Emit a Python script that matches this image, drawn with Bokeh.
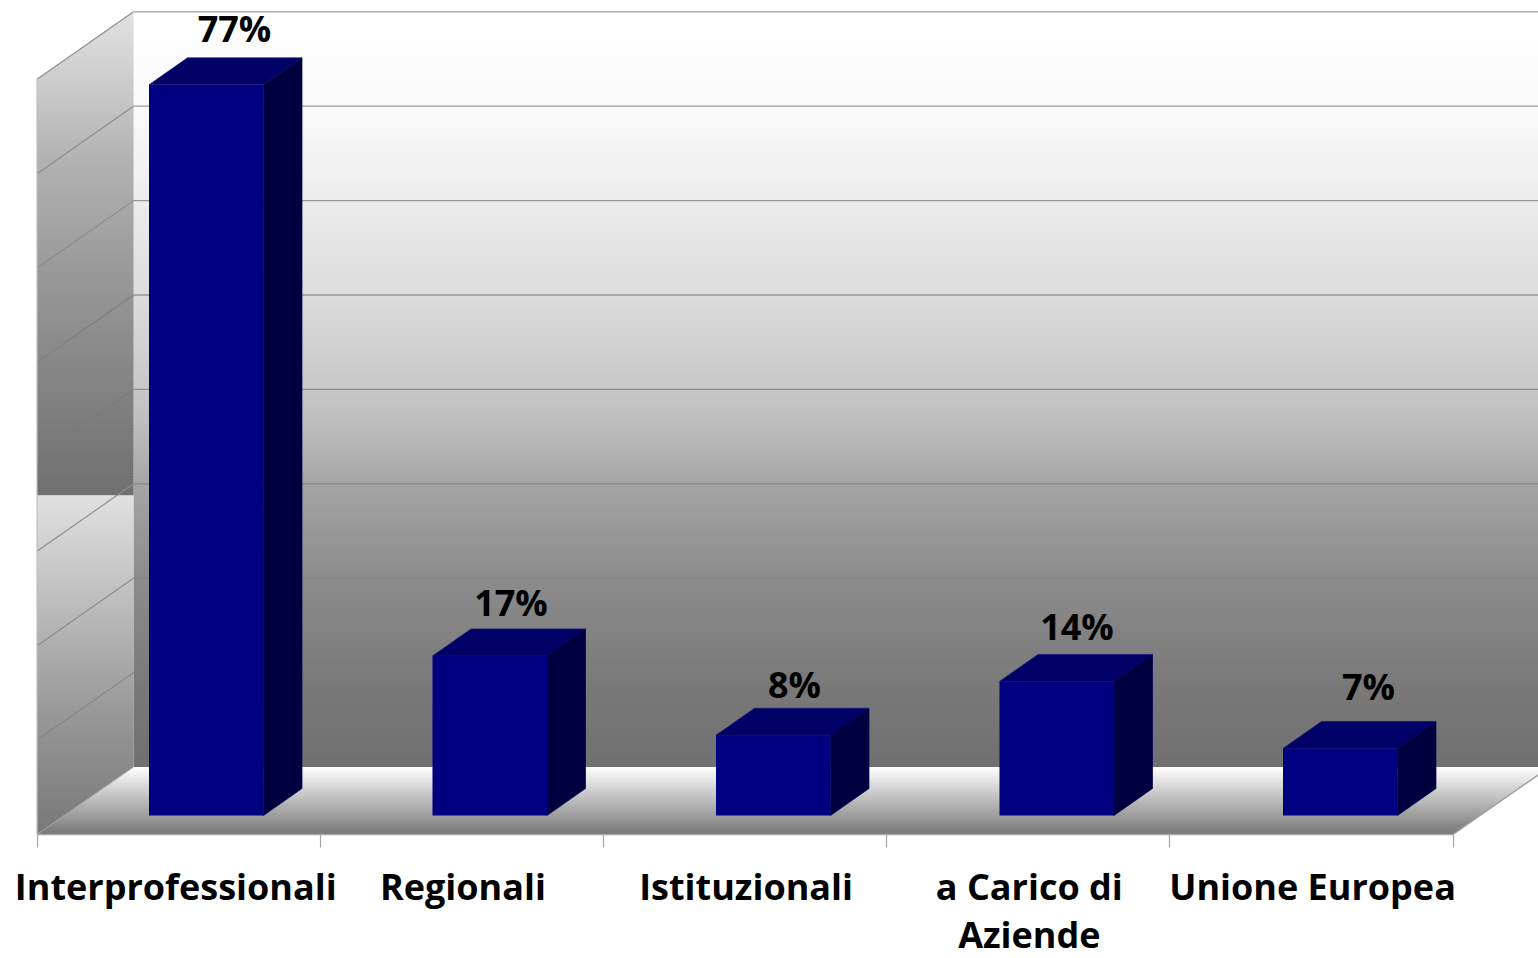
import numpy as np
from bokeh.plotting import figure
from bokeh.models import Range1d, LinearAxis, FixedTicker, ColumnDataSource
from bokeh.core.properties import value
from bokeh.embed import file_html
from bokeh.resources import INLINE

# ---- data ----
categories = ["Interprofessionali", "Regionali", "Istituzionali", "a Carico di\nAziende", "Unione Europea"]
bar_values = [77.4, 16.9, 8.5, 14.2, 7.1]
bar_labels = ["77%", "17%", "8%", "14%", "7%"]
value_gridlines = [10, 20, 30, 40, 50, 60, 70, 80]
back_grid_colors = ["#7a7a7a", "#808080", "#858585", "#8f8f8f", "#949494", "#979797", "#9c9c9c", "#a0a0a0"]
side_grid_colors = ["#858585", "#8c8c8c", "#8c8c8c", "#7a7a7a", "#808080", "#8c8c8c", "#8c8c8c", "#8c8c8c"]

# ---- layout constants ----
W, H = 1538, 958
PX_CAT, PX_PCT = 283.2, 9.44          # pixels per category / per percent
X0, Y0 = 36.5, 834                    # pixel of the origin on the front plane
WALL_DX, WALL_DY = 96.5 / PX_CAT, 67.5 / PX_PCT  # depth of the box
BAR_DX, BAR_DY = 38.5 / PX_CAT, 27 / PX_PCT      # depth of a bar
BAR_W = 114.5 / PX_CAT
BAR_START, BAR_STEP = 112 / PX_CAT, 283.5 / PX_CAT
BAR_BASE = 19 / PX_PCT
label_dx = [9, 2, 2, 1, 9]            # label centre vs. bar centre + depth, px
label_dy = [29, 26, 24, 28, 35]       # label centre above bar's back edge, px

def X(px): return (np.asarray(px, float) - X0) / PX_CAT
def Y(py): return (Y0 - np.asarray(py, float)) / PX_PCT

p = figure(width=W, height=H, output_backend="svg", toolbar_location=None,
           x_axis_type=None, y_axis_type=None, min_border=0,
           x_range=Range1d(float(X(0)), float(X(W))), y_range=Range1d(float(Y(H)), float(Y(0))),
           background_fill_color="white", border_fill_color="white", outline_line_color=None)
p.grid.visible = False


def bands(y_edges, stops_y, stops_g, left, right):
    """Horizontal gradient made of thin trapezoids; left/right give pixel x for a pixel y."""
    xs, ys, cols = [], [], []
    for a, b in zip(y_edges[:-1], y_edges[1:]):
        g = int(round(np.interp((a + b) / 2, stops_y, stops_g)))
        # each band runs a hair under the next one so that no seam shows
        b2 = b + 0.6 if b < y_edges[-1] else b
        xs.append(X([left(a), right(a), right(b2), left(b2)]).tolist())
        ys.append(Y([a, a, b2, b2]).tolist())
        cols.append(f"#{g:02x}{g:02x}{g:02x}")
    p.patches(xs, ys, fill_color=cols, line_color=None)


bx, by = X0 + WALL_DX * PX_CAT, Y0 - WALL_DY * PX_PCT       # back/bottom-left corner
top_back = by - 80 * PX_PCT                                  # top of back wall
top_front = Y0 - 80 * PX_PCT
slope = (bx - X0) / (Y0 - by)

# back wall
edges = np.r_[np.arange(round(top_back), by, 3.0), by]
bands(edges, [12, 106, 200, 295, 387, 440, 482, 576, 680, 767],
      [255, 250, 236, 220, 200, 184, 165, 140, 122, 112], lambda y: bx, lambda y: W + 2)

# left side wall (its gradient restarts half-way down)
sl = lambda y: max(X0, bx - (y - top_back) * slope)
sr = lambda y: bx if y <= by else bx - (y - by) * slope
e1 = np.unique(np.r_[top_back, np.arange(14.0, 495.0, 3.0), top_front, 495.0])
e2 = np.unique(np.r_[np.arange(495.0, Y0, 3.0), by, Y0])
bands(e1, [12, 70, 160, 260, 360, 460, 495], [225, 208, 178, 155, 136, 118, 112], sl, sr)
bands(e2, [496, 640, 720, 834], [224, 176, 150, 120], sl, sr)

# floor
fr = lambda y: X0 + 5 * PX_CAT + (Y0 - y) * slope
fl = lambda y: bx - (y - by) * slope
bands(np.r_[by, np.arange(768.0, Y0, 1.0), Y0], [by, 800, Y0], [255, 187, 119], fl, fr)

# gridlines on both walls
for v, cb, cs in zip(value_gridlines, back_grid_colors, side_grid_colors):
    p.line([0, WALL_DX], [v, v + WALL_DY], line_color=cs, line_width=1.1)
    p.line([WALL_DX, float(X(W + 2))], [v + WALL_DY, v + WALL_DY], line_color=cb, line_width=1.3)
# corner edges
p.line([0, WALL_DX], [0, WALL_DY], line_color="#a0a0a0", line_width=1)
p.line([0, 0], [0, 80], line_color="#c0c0c0", line_width=1.2)
p.line([5, 5 + WALL_DX], [0, WALL_DY], line_color="#a0a0a0", line_width=1.4)

# bars
for i, v in enumerate(bar_values):
    l = BAR_START + BAR_STEP * i
    r = l + BAR_W
    b = BAR_BASE
    t = b + v
    p.patch([l, r, r + BAR_DX, l + BAR_DX], [t, t, t + BAR_DY, t + BAR_DY],
            fill_color="#000066", line_color="#14147a", line_width=0.7)
    p.patch([r, r + BAR_DX, r + BAR_DX, r], [b, b + BAR_DY, t + BAR_DY, t],
            fill_color="#000040", line_color="#000050", line_width=0.7)
    p.quad(left=l, right=r, bottom=b, top=t, fill_color="#000080", line_color=None)

# data labels
lab = ColumnDataSource(dict(
    x=[BAR_START + BAR_STEP * i + (BAR_W + BAR_DX) / 2 for i in range(5)],
    y=[BAR_BASE + v + BAR_DY for v in bar_values],
    text=bar_labels,
    xo=label_dx,
    yo=[-d for d in label_dy],
))
p.text(x="x", y="y", text="text", source=lab, x_offset="xo", y_offset="yo",
       text_font=value("Open Sans"), text_font_style="bold", text_font_size="36px",
       text_color="#000000", text_align="center", text_baseline="middle")

# category axis: ticks on the boundaries, labels between
axis = LinearAxis(fixed_location=0, bounds=(0, 5))
label_pos = [0.49, 1.504, 2.504, 3.504, 4.504]
axis.ticker = FixedTicker(ticks=label_pos, minor_ticks=[0, 1, 2, 3, 4, 5])
axis.major_label_overrides = {pos: c for pos, c in zip(label_pos, categories)}
axis.major_tick_in = 0
axis.major_tick_out = 0
axis.minor_tick_in = 0
axis.minor_tick_out = 13
axis.minor_tick_line_color = "#a6a6a6"
axis.minor_tick_line_width = 1.2
axis.axis_line_color = "#a6a6a6"
axis.axis_line_width = 1.6
axis.major_label_standoff = 14
axis.major_label_text_font = "Open Sans"
axis.major_label_text_font_style = "bold"
axis.major_label_text_font_size = "36px"
axis.major_label_text_color = "#000000"
axis.major_label_text_line_height = 0.98
axis.major_label_orientation = "horizontal"
p.add_layout(axis, "below")

html = file_html(p, INLINE).replace("<head>", "<head><style>html,body{margin:0;padding:0;overflow:hidden}</style>", 1)
open("out.html", "w").write(html)
